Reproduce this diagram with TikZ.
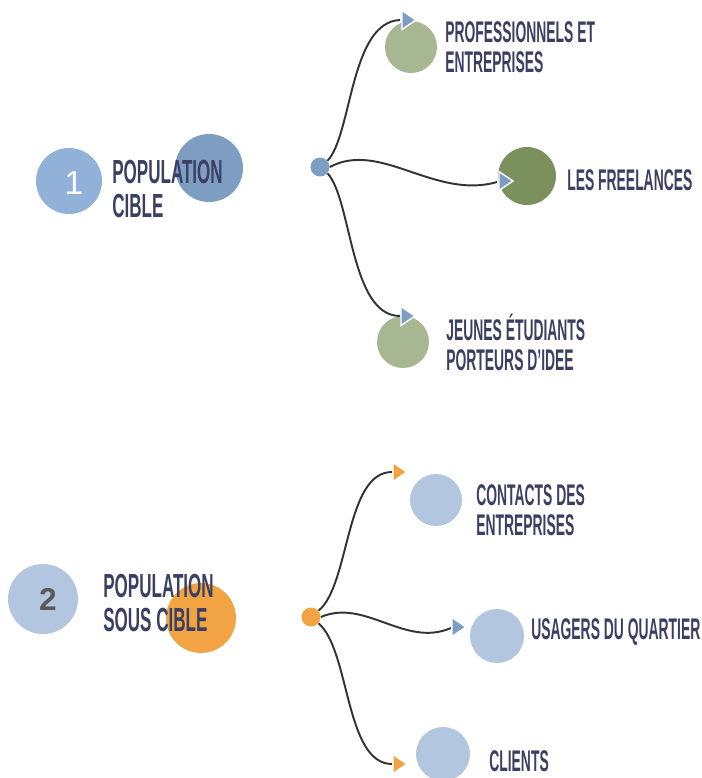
\documentclass[tikz,border=0pt]{standalone}
\usepackage{fontspec}
\usetikzlibrary{shapes.geometric}
\newfontfamily\bebas[FakeStretch=0.51]{Liberation Sans}
\newfontfamily\bebasleaf[FakeStretch=0.465]{Liberation Sans}
\newfontfamily\numfont{Liberation Sans}
\definecolor{popblue}{HTML}{92B1D8}
\definecolor{popdark}{HTML}{7E9DC3}
\definecolor{poppale}{HTML}{B3C6DF}
\definecolor{popsage}{HTML}{A6B792}
\definecolor{popolive}{HTML}{7A915E}
\definecolor{poporange}{HTML}{F2A444}
\definecolor{popink}{HTML}{3B3F62}
\tikzset{
  disc/.style={circle, inner sep=0pt, minimum size=#1},
  hubdot/.style={circle, inner sep=0pt, minimum size=0.38cm},
  tipmark/.style={isosceles triangle, isosceles triangle stretches, inner sep=0pt,
    minimum width=0.38cm, minimum height=0.28cm, draw=white, line width=0.8pt},
  branch/.style={draw=black!80, line width=1.1pt},
  titletext/.style={anchor=west, align=left, inner sep=0pt, text=popink,
    font=\bebas\bfseries\fontsize{19}{19.4}\selectfont},
  leaftext/.style={anchor=west, align=left, inner sep=0pt, text=popink,
    font=\bebasleaf\bfseries\fontsize{17}{17}\selectfont}
}
\begin{document}
\begin{tikzpicture}[x=0.02cm, y=-0.02cm]
  \useasboundingbox (0,0) rectangle (701,778);
  % --- population cible
  \node[disc=1.32cm, fill=popblue] (num1) at (69,181) {};
  \node[text=white, font=\numfont\fontsize{19}{19}\selectfont] (num1txt) at (74,183) {1};
  \node[disc=1.36cm, fill=popdark] (deco1) at (209,168) {};
  \node[titletext] (pop1) at (112,189) {POPULATION\\CIBLE};
  \node[hubdot, fill=popdark] (hub1) at (320,167) {};
  % targets
  \node[disc=1.04cm, fill=popsage] (pro) at (411,47) {};
  \node[disc=1.16cm, fill=popolive] (free) at (527,176) {};
  \node[disc=1.04cm, fill=popsage] (jeunes) at (403,342) {};
  \node[leaftext] (protxt) at (445,47) {PROFESSIONNELS ET\\ENTREPRISES};
  \node[leaftext] (freetxt) at (567,180) {LES FREELANCES};
  \node[leaftext] (jeunestxt) at (446,342) {JEUNES ÉTUDIANTS\\PORTEURS D’IDEE};
  % branches
  \draw[branch] (hub1.40) .. controls (352,135) and (350,22) .. (400,20);
  \draw[branch] (hub1.east) .. controls (380,140) and (435,200) .. (497,182);
  \draw[branch] (hub1.-40) .. controls (352,200) and (350,316) .. (400,316);
  \node[tipmark, fill=popdark] (tpro) at (407,20) {};
  \node[tipmark, fill=popdark] (tfree) at (504,181) {};
  \node[tipmark, fill=popdark] (tjeunes) at (406,316) {};

  % --- population sous cible
  \node[disc=1.4cm, fill=poppale] (num2) at (43,599) {};
  \node[text=black!65, font=\numfont\bfseries\fontsize{18}{18}\selectfont] (num2txt) at (48,599) {2};
  \node[disc=1.4cm, fill=poporange] (deco2) at (201,618) {};
  \node[titletext] (pop2) at (103,603) {POPULATION\\SOUS CIBLE};
  \node[hubdot, fill=poporange] (hub2) at (311,617) {};
  % targets
  \node[disc=1.04cm, fill=poppale] (contacts) at (436,500) {};
  \node[disc=1.08cm, fill=poppale] (usagers) at (497,636) {};
  \node[disc=1.08cm, fill=poppale] (clients) at (443,754) {};
  \node[leaftext] (contactstxt) at (476,510) {CONTACTS DES\\ENTREPRISES};
  \node[leaftext] (usagerstxt) at (531,632) {USAGERS DU QUARTIER};
  \node[leaftext] (clientstxt) at (489,761) {CLIENTS};
  % branches
  \draw[branch] (hub2.40) .. controls (350,585) and (345,472) .. (392,472);
  \draw[branch] (hub2.east) .. controls (365,598) and (405,648) .. (451,628);
  \draw[branch] (hub2.-40) .. controls (350,650) and (345,764) .. (392,764);
  \node[tipmark, fill=poporange] (tcontacts) at (398,472) {};
  \node[tipmark, fill=popdark] (tusagers) at (457,627) {};
  \node[tipmark, fill=poporange] (tclients) at (398,764) {};
\end{tikzpicture}
\end{document}
